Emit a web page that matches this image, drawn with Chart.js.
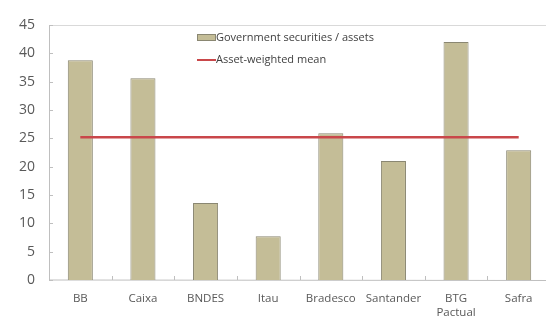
<!DOCTYPE html>
<html>
<head>
<meta charset="utf-8">
<script src="https://cdn.jsdelivr.net/npm/chart.js@4.4.1/dist/chart.umd.min.js"></script>
<style>
  html, body { margin: 0; padding: 0; background: #fff; overflow: hidden; }
  #wrap { width: 550px; height: 322px; }
</style>
</head>
<body>
<div id="wrap"><canvas id="chart"></canvas></div>
<script>
// values
const categories = ['BB', 'Caixa', 'BNDES', 'Itau', 'Bradesco', 'Santander', ['BTG', 'Pactual'], 'Safra'];
const govSecurities = [38.8, 35.6, 13.6, 7.7, 25.9, 21.0, 42.0, 22.9];
const weightedMean = [25.2, 25.2, 25.2, 25.2, 25.2, 25.2, 25.2, 25.2];
const yMin = 0, yMax = 45, yStep = 5;

const seriesNames = ['Government securities / assets', 'Asset-weighted mean'];
const barFill = '#c4bd97';
const barEdge = '#8a8772';
const meanRed = '#c9474a';
const axisGray = '#bfbfbf';
const textGray = '#595959';
const FONT = '"Open Sans", sans-serif';

// frame, inside tick marks and the in-plot legend
const decorations = {
    id: 'decorations',
    beforeDatasetsDraw(chart) {
        const { ctx, chartArea: a, scales: { x, y } } = chart;
        ctx.save();
        ctx.strokeStyle = '#d9d9d9';
        ctx.lineWidth = 1;
        ctx.beginPath();
        ctx.moveTo(a.left, a.top + 0.5);
        ctx.lineTo(a.right, a.top + 0.5);
        ctx.stroke();

        ctx.strokeStyle = axisGray;
        ctx.beginPath();
        ctx.moveTo(a.left + 0.5, a.top);
        ctx.lineTo(a.left + 0.5, a.bottom);
        ctx.lineTo(a.right, a.bottom + 0.5);
        ctx.moveTo(a.left + 0.5, a.bottom + 0.5);
        // y ticks (inside)
        y.ticks.forEach((t, i) => {
            const py = Math.round(y.getPixelForTick(i)) + 0.5;
            ctx.moveTo(a.left, py);
            ctx.lineTo(a.left + 4, py);
        });
        // x ticks between categories (inside)
        for (let i = 1; i < categories.length; i++) {
            const px = Math.round((x.getPixelForTick(i - 1) + x.getPixelForTick(i)) / 2) + 0.5;
            ctx.moveTo(px, a.bottom);
            ctx.lineTo(px, a.bottom - 4);
        }
        ctx.stroke();
        ctx.restore();
    },
    afterDraw(chart) {
        const { ctx } = chart;
        ctx.save();
        ctx.font = '11px ' + FONT;
        ctx.textBaseline = 'middle';
        // bar entry
        ctx.fillStyle = barFill;
        ctx.fillRect(197.5, 34.5, 18, 6);
        ctx.strokeStyle = barEdge;
        ctx.lineWidth = 1;
        ctx.strokeRect(197.5, 34.5, 18, 6);
        ctx.fillStyle = '#404040';
        ctx.fillText(seriesNames[0], 216, 37.5);
        // line entry
        ctx.strokeStyle = meanRed;
        ctx.lineWidth = 2;
        ctx.beginPath();
        ctx.moveTo(197, 60);
        ctx.lineTo(216, 60);
        ctx.stroke();
        ctx.fillText(seriesNames[1], 216, 60);
        ctx.restore();
    }
};

new Chart(document.getElementById('chart'), {
    type: 'bar',
    data: {
        labels: categories,
        datasets: [
            {
                type: 'line',
                label: seriesNames[1],
                data: weightedMean,
                borderColor: meanRed,
                borderWidth: 2.5,
                pointRadius: 0,
                fill: false,
                order: 0
            },
            {
                label: seriesNames[0],
                data: govSecurities,
                backgroundColor: barFill,
                borderColor: barEdge,
                borderWidth: { top: 1, left: 1, right: 1, bottom: 0 },
                categoryPercentage: 0.8,
                barPercentage: 0.5,
                order: 1
            }
        ]
    },
    options: {
        responsive: true,
        maintainAspectRatio: false,
        animation: false,
        layout: { padding: { top: 25, right: 0, left: 0, bottom: 0 } },
        plugins: {
            legend: { display: false },
            tooltip: { enabled: false }
        },
        scales: {
            x: {
                grid: { display: false, drawTicks: false },
                border: { display: false },
                ticks: {
                    color: textGray,
                    font: { family: FONT, size: 11.5 },
                    padding: 12,
                    maxRotation: 0,
                    autoSkip: false
                },
                afterFit(s) { s.height = 42; }
            },
            y: {
                min: yMin,
                max: yMax,
                grid: { display: false, drawTicks: false },
                border: { display: false },
                ticks: {
                    stepSize: yStep,
                    color: textGray,
                    font: { family: FONT, size: 14 },
                    padding: 14
                },
                afterFit(s) { s.width = 49; }
            }
        }
    },
    plugins: [decorations]
});
</script>
</body>
</html>
